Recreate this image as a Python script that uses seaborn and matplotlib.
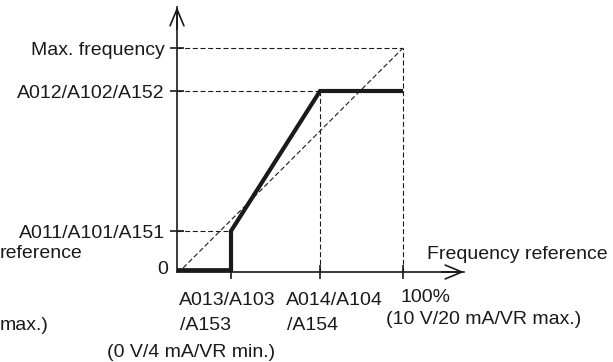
import matplotlib
matplotlib.use("Agg")
import matplotlib.pyplot as plt
import seaborn as sns
import pandas as pd

# ---- data (normalised units: x = frequency reference, y = output frequency) ----
x_tick_pos = [0.239, 0.633, 1.0]          # A013, A014, 100%
y_tick_pos = [0.183, 0.808, 1.0]          # A011, A012, Max. frequency
y_tick_labels = ["A011/A101/A151", "A012/A102/A152", "Max. frequency"]

curve_x = [0.0, 0.239, 0.239, 0.633, 1.0]
curve_y = [0.008, 0.008, 0.183, 0.808, 0.808]

diag_x = [0.027, 1.0]
diag_y = [0.018, 1.0]

sns.set_theme(style="white")
plt.rcParams["font.family"] = ["Liberation Sans", "DejaVu Sans"]

fig = plt.figure(figsize=(6.13, 3.62), dpi=100)
ax = fig.add_axes([0, 0, 1, 1])
ax.set_xlim(-177 / 226, 436 / 226)
ax.set_ylim(-90 / 224, 272 / 224)
ax.set_facecolor("white")

def px(p):
    return (p - 177) / 226

def py(q):
    return (272 - q) / 224

# axes (spines at data 0)
ax.spines["left"].set_position(("data", 0))
ax.spines["bottom"].set_position(("data", 0))
ax.spines["right"].set_visible(False)
ax.spines["top"].set_visible(False)
x_tip = px(464)
y_tip = py(7)
ax.spines["left"].set_bounds(0, y_tip)
ax.spines["bottom"].set_bounds(0, x_tip)
for s in ("left", "bottom"):
    ax.spines[s].set_color("#1a1a1a")
    ax.spines[s].set_linewidth(1.2)

ax.set_xticks(x_tick_pos, labels=[""] * len(x_tick_pos))
ax.set_yticks(y_tick_pos, labels=[""] * len(y_tick_pos))
ax.tick_params(direction="inout", length=10.5, width=1.2, color="#1a1a1a",
               left=True, bottom=True)
ax.grid(False)

arrow_kw = dict(arrowstyle="->,head_length=0.6,head_width=0.25", lw=1.2,
                color="#1a1a1a", mutation_scale=20, shrinkA=0, shrinkB=0)
ax.annotate("", xy=(0, y_tip), xytext=(0, y_tip - 0.1), arrowprops=arrow_kw)
ax.annotate("", xy=(x_tip, 0), xytext=(x_tip - 0.1, 0), arrowprops=arrow_kw)

# dashed guide lines
dash = dict(color="#1a1a1a", lw=0.8, linestyle=(0, (4.5, 2.4)))
ax.plot([0, x_tick_pos[2]], [y_tick_pos[2], y_tick_pos[2]], **dash)
ax.plot([x_tick_pos[2], x_tick_pos[2]], [0, y_tick_pos[2]], **dash)
ax.plot([0, x_tick_pos[1]], [y_tick_pos[1], y_tick_pos[1]], **dash)
ax.plot([x_tick_pos[1], x_tick_pos[1]], [0, y_tick_pos[1]], **dash)
ax.plot([0, x_tick_pos[0]], [y_tick_pos[0], y_tick_pos[0]], **dash)
ax.plot(diag_x, diag_y, **dash)

# thick characteristic
df = pd.DataFrame({"x": curve_x, "y": curve_y})
sns.lineplot(data=df, x="x", y="y", sort=False, estimator=None, ax=ax,
             color="#1a1a1a", lw=3.0, solid_joinstyle="miter",
             solid_capstyle="butt")
ax.set_xlabel("")
ax.set_ylabel("")

fs = 14
tc = "#1a1a1a"
# y labels
for lab, y, base in zip(y_tick_labels, y_tick_pos, [238, 98, 55]):
    ax.text(px(165), py(base), lab, ha="right", va="baseline", fontsize=fs, color=tc)
ax.text(px(168), py(274), "0", ha="right", va="baseline", fontsize=fs, color=tc)

# x labels
ax.text(px(179), py(305), "A013/A103", ha="left", va="baseline", fontsize=fs, color=tc)
ax.text(px(180), py(330), "/A153", ha="left", va="baseline", fontsize=fs, color=tc)
ax.text(px(107), py(357), "(0 V/4 mA/VR min.)", ha="left", va="baseline", fontsize=fs, color=tc)
ax.text(px(286), py(305), "A014/A104", ha="left", va="baseline", fontsize=fs, color=tc)
ax.text(px(287), py(330), "/A154", ha="left", va="baseline", fontsize=fs, color=tc)
ax.text(px(400), py(302), "100%", ha="left", va="baseline", fontsize=fs, color=tc)
ax.text(px(386), py(324), "(10 V/20 mA/VR max.)", ha="left", va="baseline", fontsize=fs, color=tc)
ax.text(px(427), py(259), "Frequency reference", ha="left", va="baseline", fontsize=fs, color=tc)

# partial labels at left edge
ax.text(px(0), py(258), "reference", ha="left", va="baseline", fontsize=fs, color=tc)
ax.text(px(0), py(330), "max.)", ha="left", va="baseline", fontsize=fs, color=tc)

fig.savefig("out.png", dpi=100, facecolor="white")
